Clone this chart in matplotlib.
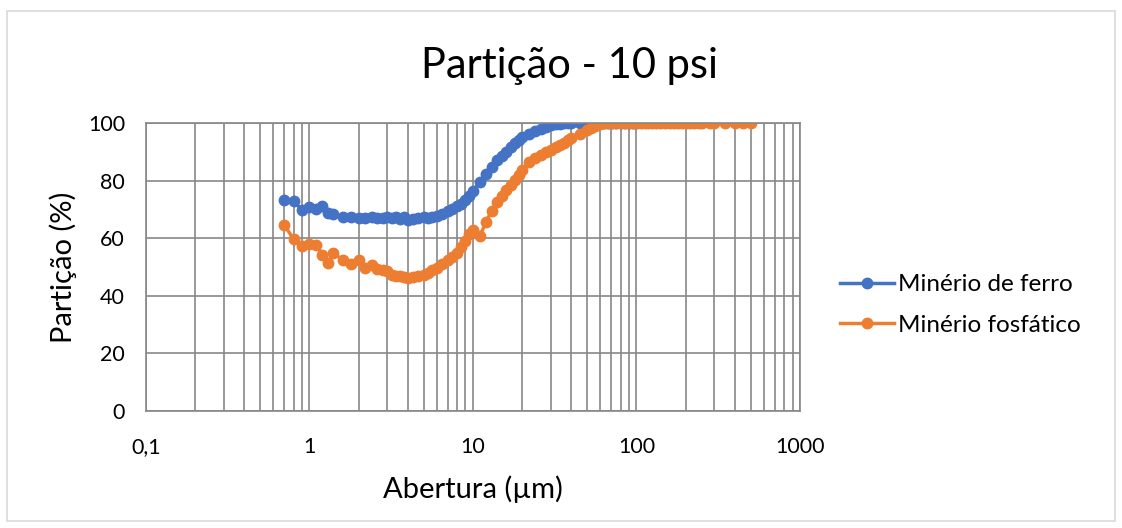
import numpy as np
import matplotlib.pyplot as plt
from matplotlib.patches import Rectangle
from matplotlib.ticker import FixedLocator, FuncFormatter

plt.rcParams['font.family'] = ['Lato', 'DejaVu Sans']

# abertura (um)
x_ferro = [0.7, 0.8, 0.9, 1.0, 1.1, 1.2, 1.3, 1.4, 1.6, 1.8, 2.0, 2.2, 2.4, 2.6, 2.8,
           3.0, 3.2, 3.4, 3.6, 3.8, 4.0, 4.3, 4.6, 5.0, 5.3, 5.6, 6.0, 6.5, 7.0, 7.5,
           8.0, 8.5, 9.0, 9.5, 10, 11, 12, 13, 14, 15, 16, 17, 18, 19, 20, 22, 24, 26,
           28, 30, 32, 34, 36, 38, 40, 45, 50, 53, 56, 60, 63, 67, 71, 75, 80, 85, 90,
           95, 100]
y_ferro = [73.4, 72.9, 69.8, 70.8, 70.2, 71.0, 68.7, 68.5, 67.2, 67.3, 67.0, 67.0, 67.2,
           66.9, 67.0, 67.3, 67.0, 67.5, 66.8, 67.2, 66.2, 66.5, 67.0, 67.4, 67.0, 67.2,
           67.6, 68.3, 69.3, 70.2, 71.0, 72.0, 73.3, 74.8, 76.3, 79.5, 82.3, 84.8, 87.0,
           88.6, 90.0, 91.8, 93.0, 94.0, 95.0, 96.2, 97.2, 98.0, 98.7, 99.2, 99.6, 99.8,
           100, 100, 100, 100, 100, 100, 100, 100, 100, 100, 100, 100, 100, 100, 100,
           100, 100]

x_fosf = [0.7, 0.8, 0.9, 1.0, 1.1, 1.2, 1.3, 1.4, 1.6, 1.8, 2.0, 2.2, 2.4, 2.6, 2.8,
          3.0, 3.2, 3.4, 3.6, 3.8, 4.0, 4.3, 4.6, 5.0, 5.3, 5.6, 6.0, 6.5, 7.0, 7.5,
          8.0, 8.5, 9.0, 9.5, 10, 11, 12, 13, 14, 15, 16, 17, 18, 19, 20, 22, 24, 26,
          28, 30, 32, 34, 36, 38, 40, 45, 50, 53, 56, 60, 63, 67, 71, 75, 80, 85, 90,
          95, 100, 106, 112, 118, 125, 132, 140, 150, 160, 170, 180, 190, 200, 212,
          224, 242, 250, 280, 300, 350, 400, 450, 500]
y_fosf = [64.7, 59.7, 57.2, 58.1, 57.7, 54.3, 51.4, 55.0, 52.3, 51.1, 52.5, 49.6, 50.8,
          49.3, 48.8, 48.5, 47.2, 46.8, 47.0, 46.5, 46.2, 46.5, 46.7, 47.3, 48.0, 48.8,
          49.8, 51.2, 52.3, 53.3, 55.0, 57.0, 59.0, 61.5, 63.0, 60.6, 65.5, 69.5, 72.5,
          74.5, 76.8, 78.6, 80.3, 82.0, 83.5, 86.5, 88.0, 89.0, 89.8, 90.6, 91.5, 92.3,
          93.2, 94.0, 94.8, 96.0, 97.5, 98.3, 99.0, 99.6, 99.9, 100, 100, 100, 100, 100,
          100, 100, 100, 100, 100, 100, 100, 100, 100, 100, 100, 100, 100, 100, 100, 100,
          100, 100, 100, 100, 100, 100, 100, 100, 100]

fig = plt.figure(figsize=(11.22, 5.28), dpi=100)
ax = fig.add_axes([0.130, 0.2216, 0.583, 0.5455])

ax.plot(x_ferro, y_ferro, color='#4472C4', lw=2.5, marker='o', ms=7.5,
        label='Minério de ferro')
ax.plot(x_fosf, y_fosf, color='#ED7D31', lw=2.5, marker='o', ms=7.5,
        label='Minério fosfático')

ax.set_xscale('log')
ax.set_xlim(0.1, 1000)
ax.set_ylim(0, 100)
ax.set_yticks(np.arange(0, 101, 20))
ax.xaxis.set_major_locator(FixedLocator([0.1, 1, 10, 100, 1000]))
ax.xaxis.set_major_formatter(FuncFormatter(lambda v, p: ('%g' % v).replace('.', ',')))
ax.xaxis.set_minor_formatter(FuncFormatter(lambda v, p: ''))

ax.grid(True, which='both', axis='x', color='#878787', lw=1.2)
ax.grid(True, which='major', axis='y', color='#878787', lw=1.2)
ax.set_axisbelow(True)
for s in ax.spines.values():
    s.set_color('#878787')
    s.set_linewidth(1.2)
ax.tick_params(which='both', length=0, labelsize=15.5, colors='black')
ax.tick_params(axis='y', pad=15)
ax.tick_params(axis='x', pad=19)

ax.set_ylabel('Partição (%)', fontsize=21, labelpad=8)
ax.set_xlabel('Abertura (µm)', fontsize=21, labelpad=13)

fig.text(0.508, 0.852, 'Partição - 10 psi', fontsize=30, ha='center', va='baseline')

ax.legend(loc='center left', bbox_to_anchor=(0.7487, 0.422), bbox_transform=fig.transFigure,
          frameon=False, fontsize=17.5, handlelength=2.2, handletextpad=0.2,
          labelspacing=0.8, borderpad=0, borderaxespad=0)

fig.patches.append(Rectangle((0.006, 0.013), 0.988, 0.966, transform=fig.transFigure,
                             fill=False, edgecolor='#d9d9d9', lw=1.2))

fig.savefig('out.png', dpi=100)
